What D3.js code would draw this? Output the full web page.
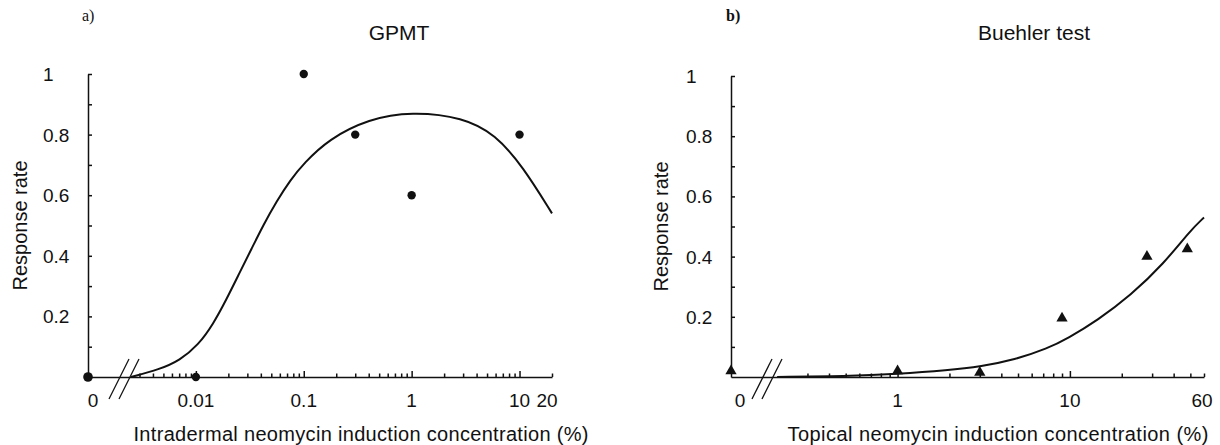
<!DOCTYPE html>
<html>
<head>
<meta charset="utf-8">
<script src="https://cdn.jsdelivr.net/npm/d3@7"></script>
<style>
  body { margin: 0; background: #fff; }
  text { font-family: "Liberation Sans", Arial, sans-serif; fill: #111; }
  .tag { font-family: "Liberation Serif", "DejaVu Serif", serif; }
</style>
</head>
<body>
<svg id="chart" width="1220" height="445"></svg>
<script>
// a) GPMT - measured points and fitted curve
var gpmtConc = [0, 0.01, 0.1, 0.3, 1, 10];
var gpmtRate = [0, 0, 1.0, 0.8, 0.6, 0.8];
var gpmtFitConc = [0.0025, 0.0046, 0.0071, 0.0105, 0.0145, 0.0192, 0.0255, 0.033, 0.042, 0.056, 0.075, 0.1, 0.17, 0.4, 1, 3, 6, 10.7, 20];
var gpmtFitRate = [0, 0.025, 0.055, 0.105, 0.175, 0.256, 0.345, 0.425, 0.5, 0.58, 0.65, 0.705, 0.785, 0.852, 0.876, 0.857, 0.8, 0.695, 0.54];
var gpmtTicks = [0, 0.01, 0.1, 1, 10, 20];
var gpmtTickLabels = ["0", "0.01", "0.1", "1", "10", "20"];

// b) Buehler test
var buehlerConc = [0, 1, 3, 9, 28, 48];
var buehlerRate = [0.02, 0.02, 0.015, 0.195, 0.4, 0.425];
var buehlerFitConc = [0.2, 0.5, 1, 1.96, 3.06, 4.77, 7.43, 9.7, 14.5, 22.5, 35, 50, 60];
var buehlerFitRate = [0, 0.003, 0.01, 0.022, 0.035, 0.057, 0.095, 0.128, 0.189, 0.271, 0.376, 0.487, 0.53];
var buehlerTicks = [0, 1, 10, 60];
var buehlerTickLabels = ["0", "1", "10", "60"];

var rateTicks = [0.2, 0.4, 0.6, 0.8, 1];
var rateLabels = ["0.2", "0.4", "0.6", "0.8", "1"];

var svg = d3.select("#chart");
var baseY = 377;

var panels = [
  {
    tag: "a)", tagX: 82, tagBold: false,
    title: "GPMT", titleX: 399,
    xTitle: "Intradermal neomycin induction concentration (%)", xTitleX: 361, xTitleLen: 455,
    yTitleX: 27,
    conc: gpmtConc, rate: gpmtRate, fitConc: gpmtFitConc, fitRate: gpmtFitRate,
    ticks: gpmtTicks, labels: gpmtTickLabels,
    domain: [0.001, 20], range: [88, 552], top: 74,
    breakX: 124, zeroDx: 5, lastDx: -5, marker: "circle"
  },
  {
    tag: "b)", tagX: 726, tagBold: true,
    title: "Buehler test", titleX: 1034,
    xTitle: "Topical neomycin induction concentration (%)", xTitleX: 998, xTitleLen: 421,
    yTitleX: 668,
    conc: buehlerConc, rate: buehlerRate, fitConc: buehlerFitConc, fitRate: buehlerFitRate,
    ticks: buehlerTicks, labels: buehlerTickLabels,
    domain: [0.108, 60], range: [731, 1204], top: 76,
    breakX: 767, zeroDx: 9, lastDx: -2, marker: "triangle"
  }
];

panels.forEach(drawPanel);

function drawPanel(p) {
  var g = svg.append("g");
  var x = d3.scaleLog().domain(p.domain).range(p.range);
  var y = d3.scaleLinear().domain([0, 1]).range([baseY, p.top]);
  var x0 = x(p.domain[0]);
  // zero sits at the start of the broken axis
  var xp = function (v) { return v === 0 ? x0 : x(v); };

  // y axis, ticks pointing inwards every 0.1
  var yAxis = g.append("g")
      .attr("transform", "translate(" + x0 + ",0)")
      .call(d3.axisRight(y).tickValues(d3.range(1, 11).map(function (i) { return i / 10; }))
        .tickSize(4).tickSizeOuter(0).tickFormat(""));
  yAxis.selectAll("path, line").attr("stroke", "#111").attr("stroke-width", 1.5);

  g.selectAll(".ylab").data(rateTicks).enter().append("text")
      .attr("class", "ylab")
      .attr("x", x0 - 45)
      .attr("y", function (d) { return y(d) + 7; })
      .attr("font-size", 19)
      .text(function (d, i) { return rateLabels[i]; });

  // x axis with log minor ticks pointing up
  var minor = x.ticks().filter(function (v) { return x(v) > p.breakX + 12; });
  var xAxis = g.append("g")
      .attr("transform", "translate(0," + baseY + ")")
      .call(d3.axisTop(x).tickValues(minor).tickSizeOuter(0).tickFormat(""));
  xAxis.selectAll(".tick line").attr("y2", function (v) {
    var isDecade = Math.abs(Math.log10(v) - Math.round(Math.log10(v))) < 1e-6;
    return isDecade ? -6 : -3.5;
  });
  xAxis.selectAll("path, line").attr("stroke", "#111").attr("stroke-width", 1.5);

  g.selectAll(".xlab").data(p.ticks).enter().append("text")
      .attr("class", "xlab")
      .attr("x", function (d, i) {
        var dx = i === 0 ? p.zeroDx : (i === p.ticks.length - 1 ? p.lastDx : 0);
        return xp(d) + dx;
      })
      .attr("y", 407)
      .attr("text-anchor", "middle")
      .attr("font-size", 19)
      .text(function (d, i) { return p.labels[i]; });

  // axis break marks
  [-5, 5].forEach(function (off) {
    g.append("line")
        .attr("x1", p.breakX + off - 10).attr("y1", baseY + 22)
        .attr("x2", p.breakX + off + 10).attr("y2", baseY - 18)
        .attr("stroke", "#111").attr("stroke-width", 1.3);
  });

  // fitted curve
  var fit = p.fitConc.map(function (c, i) { return [c, p.fitRate[i]]; });
  g.append("path")
      .datum(fit)
      .attr("fill", "none")
      .attr("stroke", "#111")
      .attr("stroke-width", 2)
      .attr("d", d3.line()
        .x(function (d) { return x(d[0]); })
        .y(function (d) { return y(d[1]); })
        .curve(d3.curveBasis));

  // observed points
  var pts = p.conc.map(function (c, i) { return [c, p.rate[i]]; });
  if (p.marker === "circle") {
    g.selectAll(".pt").data(pts).enter().append("circle")
        .attr("cx", function (d) { return xp(d[0]); })
        .attr("cy", function (d) { return y(d[1]); })
        .attr("r", function (d) { return d[0] === 0 ? 4.8 : 4.2; })
        .attr("fill", "#111");
  } else {
    var tri = d3.symbol().type(d3.symbolTriangle).size(55);
    g.selectAll(".pt").data(pts).enter().append("path")
        .attr("transform", function (d) { return "translate(" + xp(d[0]) + "," + y(d[1]) + ")"; })
        .attr("d", tri)
        .attr("fill", "#111");
  }

  // texts
  g.append("text")
      .attr("class", "tag")
      .attr("x", p.tagX).attr("y", 21)
      .attr("font-size", 16)
      .attr("font-weight", p.tagBold ? "bold" : "normal")
      .text(p.tag);

  g.append("text")
      .attr("x", p.titleX).attr("y", 40)
      .attr("text-anchor", "middle")
      .attr("font-size", 21)
      .text(p.title);

  g.append("text")
      .attr("x", p.xTitleX).attr("y", 441)
      .attr("text-anchor", "middle")
      .attr("font-size", 20)
      .attr("textLength", p.xTitleLen)
      .attr("lengthAdjust", "spacing")
      .text(p.xTitle);

  g.append("text")
      .attr("transform", "translate(" + p.yTitleX + "," + ((y(0) + y(1)) / 2) + ") rotate(-90)")
      .attr("text-anchor", "middle")
      .attr("font-size", 20)
      .text("Response rate");
}
</script>
</body>
</html>
